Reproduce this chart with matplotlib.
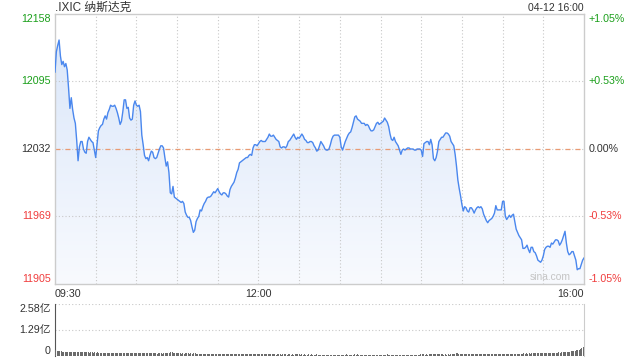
import numpy as np
import matplotlib
matplotlib.use("Agg")
import matplotlib.pyplot as plt
from matplotlib.colors import LinearSegmentedColormap
from matplotlib.patches import PathPatch

# ---------------- data ----------------
title_text = ".IXIC 纳斯达克"
stamp_text = "04-12 16:00"
prev_close = 12032
price_ticks = ["11905", "11969", "12032", "12095", "12158"]
pct_ticks = ["-1.05%", "-0.53%", "0.00%", "+0.53%", "+1.05%"]
time_labels = ["09:30", "12:00", "16:00"]
time_label_minutes = [0, 150, 390]
vol_tick_values = [0, 1.29, 2.58]
vol_tick_labels = ["0", "1.29亿", "2.58亿"]

# one value per minute, 09:30 .. 16:00
price = [
    12104, 12123, 12129, 12134, 12119, 12111, 12114, 12109, 12112, 12106,
    12089, 12070, 12080, 12069, 12061, 12056, 12040, 12021, 12034, 12039,
    12039, 12032, 12029, 12028, 12039, 12043, 12041, 12039, 12038, 12031,
    12024, 12037, 12049, 12052, 12054, 12055, 12060, 12063, 12060, 12066,
    12069, 12073, 12072, 12072, 12073, 12070, 12066, 12061, 12055, 12058,
    12067, 12078, 12078, 12070, 12071, 12061, 12059, 12060, 12073, 12077,
    12073, 12072, 12073, 12067, 12045, 12036, 12026, 12023, 12024, 12021,
    12026, 12030, 12029, 12024, 12023, 12024, 12028, 12032, 12035, 12035,
    12033, 12024, 12016, 12020, 12010, 11991, 11990, 11997, 11987, 11986,
    11985, 11984, 11983, 11982, 11983, 11981, 11973, 11970, 11968, 11968,
    11965, 11959, 11954, 11956, 11964, 11967, 11969, 11975, 11974, 11978,
    11981, 11983, 11986, 11987, 11987, 11988, 11990, 11992, 11991, 11993,
    11995, 11992, 11990, 11989, 11991, 11991, 11990, 11988, 11987, 11994,
    11997, 11999, 12001, 12005, 12010, 12013, 12019, 12020, 12021, 12022,
    12023, 12024, 12024, 12026, 12027, 12026, 12033, 12036, 12036, 12035,
    12037, 12039, 12040, 12039, 12039, 12039, 12041, 12043, 12046, 12044,
    12044, 12045, 12043, 12041, 12040, 12039, 12034, 12033, 12034, 12034,
    12033, 12035, 12039, 12040, 12042, 12044, 12046, 12043, 12041, 12043,
    12042, 12044, 12046, 12044, 12041, 12040, 12038, 12038, 12039, 12039,
    12038, 12035, 12033, 12030, 12031, 12035, 12039, 12037, 12035, 12032,
    12031, 12031, 12032, 12036, 12041, 12044, 12045, 12045, 12045, 12045,
    12043, 12034, 12031, 12035, 12039, 12042, 12045, 12047, 12048, 12052,
    12057, 12062, 12063, 12060, 12059, 12058, 12056, 12056, 12056, 12054,
    12055, 12054, 12051, 12049, 12049, 12050, 12053, 12056, 12057, 12055,
    12056, 12057, 12058, 12061, 12059, 12057, 12053, 12046, 12041, 12040,
    12043, 12039, 12037, 12035, 12031, 12027, 12031, 12032, 12031, 12032,
    12033, 12033, 12032, 12032, 12032, 12031, 12031, 12032, 12032, 12032,
    12031, 12025, 12037, 12038, 12039, 12039, 12036, 12041, 12036, 12023,
    12021, 12024, 12030, 12039, 12041, 12043, 12043, 12045, 12047, 12047,
    12046, 12044, 12039, 12037, 12035, 12027, 12016, 12003, 11995, 11988,
    11980, 11974, 11978, 11977, 11974, 11973, 11977, 11977, 11975, 11972,
    11975, 11977, 11978, 11977, 11978, 11976, 11971, 11968, 11965, 11963,
    11965, 11966, 11967, 11969, 11972, 11979, 11975, 11975, 11975, 11975,
    11983, 11983, 11969, 11966, 11968, 11970, 11968, 11970, 11971, 11964,
    11957, 11954, 11951, 11949, 11947, 11939, 11939, 11940, 11942, 11938,
    11935, 11940, 11940, 11936, 11935, 11932, 11928, 11927, 11926, 11928,
    11932, 11938, 11940, 11941, 11941, 11940, 11944, 11943, 11945, 11947,
    11947, 11946, 11942, 11944, 11947, 11951, 11955, 11944, 11936, 11933,
    11934, 11936, 11936, 11932, 11928, 11919, 11920, 11920, 11924, 11928,
    11930,
]

# volume in 亿, one bar per minute
volume = [
    0.32, 0.27, 0.25, 0.23, 0.24, 0.22, 0.22, 0.21, 0.22, 0.20, 0.21, 0.22, 0.20, 0.20, 0.19,
    0.20, 0.21, 0.19, 0.20, 0.18, 0.19, 0.20, 0.18, 0.19, 0.18, 0.17, 0.18, 0.19, 0.17, 0.18,
    0.17, 0.18, 0.17, 0.16, 0.17, 0.16, 0.17, 0.15, 0.16, 0.17, 0.15, 0.16, 0.15, 0.16, 0.15,
    0.14, 0.16, 0.15, 0.14, 0.15, 0.16, 0.15, 0.14, 0.15, 0.14, 0.15, 0.14, 0.13, 0.15, 0.14,
    0.14, 0.15, 0.16, 0.15, 0.17, 0.16, 0.15, 0.14, 0.15, 0.14, 0.13, 0.14, 0.13, 0.14, 0.13,
    0.12, 0.13, 0.14, 0.13, 0.12, 0.13, 0.14, 0.15, 0.14, 0.16, 0.18, 0.20, 0.17, 0.15, 0.14,
    0.13, 0.14, 0.13, 0.12, 0.13, 0.12, 0.13, 0.14, 0.13, 0.12, 0.13, 0.12, 0.14, 0.13, 0.12,
    0.11, 0.12, 0.11, 0.12, 0.11, 0.12, 0.11, 0.10, 0.11, 0.12, 0.11, 0.10, 0.11, 0.10, 0.11,
    0.10, 0.11, 0.10, 0.10, 0.11, 0.10, 0.09, 0.10, 0.11, 0.10, 0.10, 0.09, 0.10, 0.11, 0.10,
    0.09, 0.10, 0.09, 0.10, 0.10, 0.09, 0.10, 0.09, 0.10, 0.09, 0.10, 0.11, 0.10, 0.09, 0.10,
    0.09, 0.08, 0.09, 0.08, 0.09, 0.08, 0.09, 0.08, 0.08, 0.09, 0.08, 0.09, 0.08, 0.07, 0.08,
    0.09, 0.08, 0.07, 0.08, 0.09, 0.08, 0.07, 0.08, 0.08, 0.07, 0.08, 0.07, 0.08, 0.09, 0.08,
    0.08, 0.07, 0.08, 0.07, 0.08, 0.07, 0.07, 0.08, 0.07, 0.08, 0.07, 0.06, 0.07, 0.08, 0.07,
    0.06, 0.07, 0.06, 0.07, 0.07, 0.06, 0.07, 0.06, 0.07, 0.06, 0.07, 0.06, 0.07, 0.06, 0.07,
    0.07, 0.06, 0.07, 0.06, 0.07, 0.08, 0.07, 0.06, 0.07, 0.06, 0.07, 0.08, 0.07, 0.08, 0.07,
    0.06, 0.07, 0.06, 0.07, 0.06, 0.07, 0.06, 0.07, 0.06, 0.07, 0.06, 0.07, 0.06, 0.07, 0.06,
    0.07, 0.06, 0.07, 0.06, 0.07, 0.08, 0.07, 0.06, 0.07, 0.06, 0.07, 0.06, 0.07, 0.06, 0.07,
    0.06, 0.07, 0.06, 0.07, 0.06, 0.07, 0.06, 0.07, 0.06, 0.07, 0.06, 0.07, 0.06, 0.07, 0.06,
    0.08, 0.09, 0.08, 0.07, 0.08, 0.07, 0.08, 0.09, 0.08, 0.10, 0.11, 0.09, 0.08, 0.09, 0.08,
    0.09, 0.08, 0.07, 0.08, 0.07, 0.08, 0.07, 0.08, 0.09, 0.10, 0.12, 0.14, 0.13, 0.12, 0.11,
    0.12, 0.11, 0.10, 0.11, 0.10, 0.11, 0.10, 0.09, 0.10, 0.11, 0.10, 0.09, 0.10, 0.09, 0.10,
    0.09, 0.10, 0.11, 0.10, 0.09, 0.10, 0.09, 0.10, 0.09, 0.10, 0.11, 0.10, 0.09, 0.10, 0.10,
    0.11, 0.10, 0.11, 0.10, 0.11, 0.10, 0.11, 0.10, 0.11, 0.12, 0.11, 0.12, 0.11, 0.12, 0.11,
    0.12, 0.13, 0.12, 0.13, 0.12, 0.13, 0.12, 0.13, 0.14, 0.13, 0.14, 0.13, 0.14, 0.15, 0.14,
    0.14, 0.15, 0.14, 0.15, 0.16, 0.15, 0.16, 0.15, 0.16, 0.17, 0.16, 0.17, 0.18, 0.17, 0.18,
    0.19, 0.20, 0.19, 0.20, 0.21, 0.22, 0.24, 0.23, 0.25, 0.27, 0.28, 0.30, 0.32, 0.35, 0.38,
    0.45,
]

# ---------------- style ----------------
plt.rcParams["font.family"] = ["Liberation Sans", "Noto Sans CJK SC", "DejaVu Sans"]
GREEN = "#1a9f1a"
RED = "#f03c3c"
DARK = "#333333"
GRID = "#c8c8c8"
LINE = "#4a87ee"
FS = 7.7

W, H = 640, 360
fig = plt.figure(figsize=(W / 100, H / 100), dpi=100)
fig.patch.set_facecolor("white")

def fr(x0, y0, x1, y1):
    return [x0 / W, 1 - y1 / H, (x1 - x0) / W, (y1 - y0) / H]

ax = fig.add_axes(fr(55, 14, 584, 284))
axv = fig.add_axes(fr(55, 304, 584, 356))

minutes = np.arange(len(price))
ylo = prev_close * (1 - 0.0105)
yhi = prev_close * (1 + 0.0105)
ax.set_xlim(0, len(price) - 1)
ax.set_ylim(ylo, yhi)

# gradient fill under line
cmap = LinearSegmentedColormap.from_list("g", ["#f8fafe", "#d8e5f9"])
grad = np.linspace(1, 0, 256).reshape(-1, 1)
im = ax.imshow(grad, extent=[0, len(price) - 1, ylo, yhi], aspect="auto",
               cmap=cmap, zorder=1, interpolation="bicubic")
poly = ax.fill_between(minutes, price, ylo, color="none", lw=0)
clip = PathPatch(poly.get_paths()[0], transform=ax.transData,
                 facecolor="none", edgecolor="none")
ax.add_patch(clip)
im.set_clip_path(clip)

# grid
for m in range(30, 390, 30):
    ax.axvline(m, color=GRID, lw=0.8, ls=(0, (1, 2)), zorder=2)
mid_levels = [ylo + (yhi - ylo) * f for f in (0.25, 0.5, 0.75)]
for lv in mid_levels:
    ax.axhline(lv, color=GRID, lw=0.8, ls=(0, (1, 2)), zorder=2)
ax.axhline(prev_close, color="#ea9a72", lw=0.9, ls=(0, (4, 4)), zorder=2.5)

ax.plot(minutes, price, color=LINE, lw=1.0, zorder=3)

ax.set_xticks([])
ax.set_yticks([])
for s in ax.spines.values():
    s.set_color("#cccccc")
    s.set_linewidth(1.0)

# left / right price labels
levels = [ylo, mid_levels[0], mid_levels[1], mid_levels[2], yhi]
colors = [RED, RED, DARK, GREEN, GREEN]
vas = ["bottom", "center", "center", "center", "top"]
ytr = ax.get_yaxis_transform()
for lv, lab, pl, c, va in zip(levels, price_ticks, pct_ticks, colors, vas):
    ax.text(-0.008, lv, lab, transform=ytr, ha="right", va=va,
            color=c, fontsize=FS)
    ax.text(1.009, lv, pl, transform=ytr, ha="left", va=va,
            color=c, fontsize=FS)

# time labels
xtr = ax.get_xaxis_transform()
has = ["left", "center", "right"]
for m, lab, ha in zip(time_label_minutes, time_labels, has):
    ax.text(m, -0.02, lab, transform=xtr, ha=ha, va="top",
            color=DARK, fontsize=FS)

# title and stamp
fig.text(55 / W, 1 - 8 / H, title_text, ha="left", va="center",
         color=DARK, fontsize=8.5)
fig.text(584 / W, 1 - 8 / H, stamp_text, ha="right", va="center",
         color=DARK, fontsize=7.5)

# watermark
ax.text(0.936, 0.006, "sina.com", transform=ax.transAxes, ha="center",
        va="bottom", color="#c4c4c4", fontsize=7.4, zorder=4)

# volume
axv.set_xlim(-0.5, len(volume) - 0.5)
axv.set_ylim(0, vol_tick_values[-1])
axv.bar(np.arange(len(volume)), volume, width=0.7, color="#6b6b6b",
        linewidth=0, zorder=3)
for v in vol_tick_values[1:]:
    axv.axhline(v, color=GRID, lw=0.8, ls=(0, (1, 2)), zorder=1)
axv.set_xticks([])
axv.set_yticks([])
axv.spines["top"].set_visible(False)
axv.spines["bottom"].set_visible(False)
axv.spines["right"].set_color("#cccccc")
axv.spines["left"].set_color("#555555")
vtr = axv.get_yaxis_transform()
for v, lab, va in zip(vol_tick_values, vol_tick_labels, ["bottom", "center", "top"]):
    axv.text(-0.008, v, lab, transform=vtr, ha="right", va=va,
             color=DARK, fontsize=FS)

fig.savefig("out.png", dpi=100, facecolor="white")
